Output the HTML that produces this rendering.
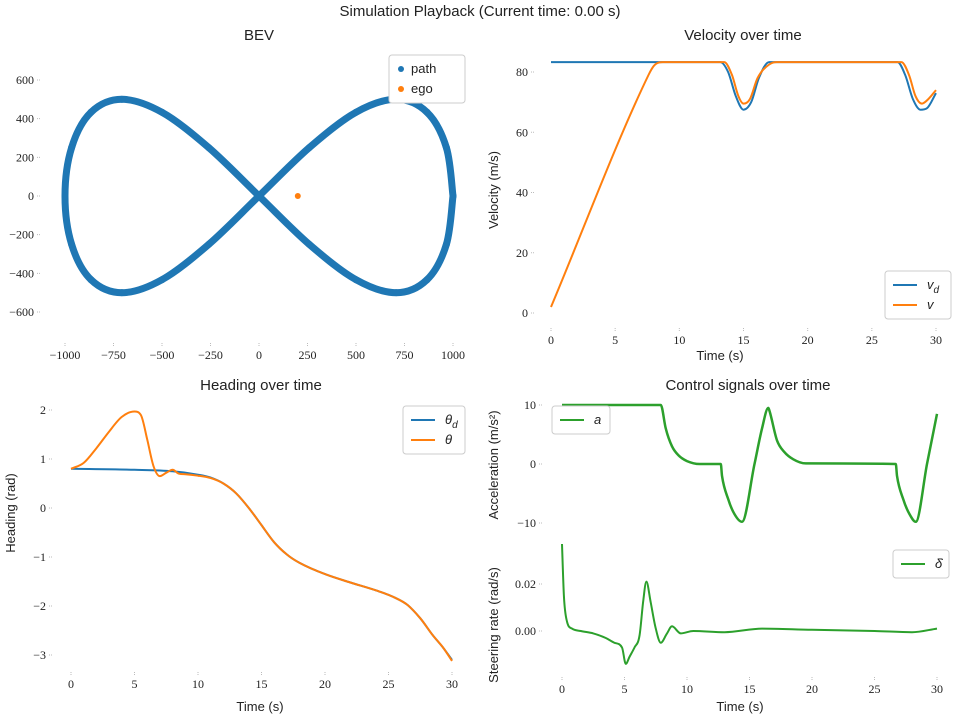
<!DOCTYPE html>
<html><head><meta charset="utf-8"><style>
body{margin:0;background:#fff;width:960px;height:719px;overflow:hidden}
svg text{font-family:"Liberation Sans",sans-serif;fill:#222}
.tk{font-family:"Liberation Serif",serif;font-size:12px}
.ttl{font-size:15px}
.lab{font-size:13px}
</style></head><body>
<svg id="s" width="960" height="719">
<text x="480" y="16" text-anchor="middle" class="ttl">Simulation Playback (Current time: 0.00 s)</text>
</svg>
<script>
// ---- data ----
const pathX=[1000,966,866,707,500,259,0,-259,-500,-707,-866,-966,-1000,-966,-866,-707,-500,-259,0,259,500,707,866,966,1000];
const pathY=[0,250,433,500,433,250,0,-250,-433,-500,-433,-250,0,250,433,500,433,250,0,-250,-433,-500,-433,-250,0];
const egoX=[200], egoY=[0];
const velT=[0,13.2,13.8,14.4,15,15.6,16.2,17,27,27.6,28.2,28.8,29.3,30];
const velVd=[83.3,83.3,80,72,67.5,70,78,83.3,83.3,79,71,67.5,68,73];
const velT2=[0,7.6,8,8.3,8.7,13.5,14.1,14.6,15,15.5,16.1,17,17.6,27.3,27.9,28.4,28.9,29.4,30];
const velV=[2,79,82,83,83.3,83.3,79,72,69.5,71,78,82.5,83.3,83.3,79,72,69.5,71,74];
const headT=[0,5,8,10,11,12,13,14,15,16,17,18,20,22,24,25.5,26.5,27.5,28.5,29.3,30];
const headD=[0.8,0.78,0.75,0.68,0.62,0.5,0.3,0,-0.35,-0.7,-0.95,-1.12,-1.35,-1.52,-1.68,-1.83,-1.98,-2.25,-2.6,-2.85,-3.1];
const headT2=[0,1,2,3,4,5,5.5,6,6.5,7,7.5,8,8.5,9,10,11,12,13,14,15,16,17,18,20,22,24,25.5,26.5,27.5,28.5,29.3,30];
const headTh=[0.8,0.92,1.22,1.56,1.86,1.97,1.9,1.4,0.85,0.65,0.72,0.78,0.7,0.69,0.66,0.61,0.5,0.3,0,-0.35,-0.7,-0.95,-1.12,-1.35,-1.52,-1.68,-1.83,-1.98,-2.25,-2.6,-2.85,-3.12];
const accT=[0,7.9,8.3,8.8,9.3,10,11,12.7,12.8,13.3,13.8,14.4,15.4,16,16.5,16.6,17.2,17.8,18.5,19.5,26.7,26.8,27.3,27.8,28.3,29.2,30];
const accA=[10,10,6,3,1.5,0.5,0,0,-2,-6,-8.5,-9.8,0,6,9.5,9,4,2,0.8,0.1,0,-2,-6,-8.5,-9.8,0,8.5];
const steT=[0,0.15,0.4,0.8,1.5,2.5,3.5,4.2,4.8,5.1,5.4,5.8,6.2,6.5,6.75,7.1,7.5,7.9,8.4,8.8,9.5,10.5,13,16,20,25,28,30];
const steV=[0.037,0.015,0.004,0.001,0,-0.001,-0.003,-0.005,-0.007,-0.014,-0.011,-0.007,-0.002,0.013,0.021,0.012,0.001,-0.005,-0.001,0.002,-0.001,0,-0.0005,0.001,0.0005,0,-0.0005,0.001];
const blue='#1f77b4',orange='#ff7f0e',green='#2ca02c';
const S=document.getElementById('s');
function el(t,a,p){const e=document.createElementNS('http://www.w3.org/2000/svg',t);for(const k in a)e.setAttribute(k,a[k]);(p||S).appendChild(e);return e;}
function lin(d0,d1,r0,r1){return v=>r0+(v-d0)*(r1-r0)/(d1-d0);}
function smooth(xs,ys,sx,sy){const P=xs.map((x,i)=>[sx(x),sy(ys[i])]);let d='M'+P[0][0]+' '+P[0][1];for(let i=0;i<P.length-1;i++){const p0=P[i-1]||P[i],p1=P[i],p2=P[i+1],p3=P[i+2]||P[i+1];const c1=[p1[0]+(p2[0]-p0[0])/6,p1[1]+(p2[1]-p0[1])/6],c2=[p2[0]-(p3[0]-p1[0])/6,p2[1]-(p3[1]-p1[1])/6];d+=`C${c1[0].toFixed(1)} ${c1[1].toFixed(1)} ${c2[0].toFixed(1)} ${c2[1].toFixed(1)} ${p2[0].toFixed(1)} ${p2[1].toFixed(1)}`;}return d;}
function mono(xs,ys,sx,sy){const X=xs.map(sx),Y=ys.map(sy),n=X.length;const dl=[],m=[];for(let i=0;i<n-1;i++)dl.push((Y[i+1]-Y[i])/(X[i+1]-X[i]));m[0]=dl[0];m[n-1]=dl[n-2];for(let i=1;i<n-1;i++){m[i]=(dl[i-1]*dl[i]<=0)?0:(dl[i-1]+dl[i])/2;}
for(let i=0;i<n-1;i++){if(dl[i]===0){m[i]=0;m[i+1]=0;continue;}const a=m[i]/dl[i],b=m[i+1]/dl[i],s=a*a+b*b;if(s>9){const t=3/Math.sqrt(s);m[i]=t*a*dl[i];m[i+1]=t*b*dl[i];}}
let d='M'+X[0].toFixed(1)+' '+Y[0].toFixed(1);for(let i=0;i<n-1;i++){const h=(X[i+1]-X[i])/3;d+=`C${(X[i]+h).toFixed(1)} ${(Y[i]+m[i]*h).toFixed(1)} ${(X[i+1]-h).toFixed(1)} ${(Y[i+1]-m[i+1]*h).toFixed(1)} ${X[i+1].toFixed(1)} ${Y[i+1].toFixed(1)}`;}return d;}
function ticks(vals,labels,sx,sy,axis,pos){vals.forEach((v,i)=>{let t;if(axis==='x'){el('line',{x1:sx(v),x2:sx(v),y1:pos,y2:pos+3,stroke:'#bbb','stroke-dasharray':'1 1'});t=el('text',{x:sx(v),y:pos+16,'text-anchor':'middle',class:'tk'});}else{el('line',{x1:pos-3,x2:pos,y1:sy(v),y2:sy(v),stroke:'#bbb','stroke-dasharray':'1 1'});t=el('text',{x:pos-6,y:sy(v)+4,'text-anchor':'end',class:'tk'});}


t.textContent=labels[i];});}
function txt(x,y,s,cls,rot,name){const t=el('text',{x:x,y:y,'text-anchor':'middle',class:cls});if(rot)t.setAttribute('transform',`rotate(-90 ${x} ${y})`);t.textContent=s;

return t;}
function legend(x,y,w,items,name){const g=el('g',{});


el('rect',{x:x,y:y,width:w,height:items.length*20+8,rx:3,fill:'#fff',stroke:'#ccc'},g);
items.forEach((it,i)=>{const cy=y+14+i*20;if(it.dot)el('circle',{cx:x+12,cy:cy,r:3,fill:it.c},g);else el('line',{x1:x+8,x2:x+32,y1:cy,y2:cy,stroke:it.c,'stroke-width':2},g);const t=el('text',{x:x+(it.dot?22:42),y:cy+4,class:'lab','font-style':it.dot?'normal':'italic'},g);t.textContent=it.l;if(it.sub){const s=el('tspan',{dy:4,'font-size':'10'},t);s.textContent=it.sub;}});}
function series(d,c,w,name){const p=el('path',{d:d,fill:'none',stroke:c,'stroke-width':w,'stroke-linejoin':'round'});

}
// ---- BEV ----
{const sx=lin(0,1000,259,453),sy=lin(0,600,196,80);
txt(259,40,'BEV','ttl',0,'bev-title');
ticks([-1000,-750,-500,-250,0,250,500,750,1000],['−1000','−750','−500','−250','0','250','500','750','1000'],sx,sy,'x',343);
ticks([-600,-400,-200,0,200,400,600],['−600','−400','−200','0','200','400','600'],sx,sy,'y',40);
series(smooth(pathX,pathY,sx,sy),blue,7,'path-series');
pathX.forEach((x,i)=>{const c=el('circle',{cx:sx(x),cy:sy(pathY[i]),r:3.5,fill:blue});

});
const e=el('circle',{cx:sx(egoX[0]),cy:sy(egoY[0]),r:3,fill:orange});


legend(389,55,76,[{l:'path',c:blue,dot:1},{l:'ego',c:orange,dot:1}],'bev-legend');}
// ---- Velocity ----
{const sx=lin(0,30,551,936),sy=lin(0,80,313,72);
txt(743,40,'Velocity over time','ttl',0,'velocity-title');
ticks([0,5,10,15,20,25,30],['0','5','10','15','20','25','30'],sx,sy,'x',328);
ticks([0,20,40,60,80],['0','20','40','60','80'],sx,sy,'y',534);
txt(720,360,'Time (s)','lab',0,'velocity-x-title');
txt(498,190,'Velocity (m/s)','lab',1,'velocity-y-title');
series(mono(velT,velVd,sx,sy),blue,2,'vd-series');
series(mono(velT2,velV,sx,sy),orange,2,'v-series');
legend(885,271,66,[{l:'v',sub:'d',c:blue},{l:'v',c:orange}],'velocity-legend');}
// ---- Heading ----
{const sx=lin(0,30,71,452),sy=lin(0,2,508,410);
txt(261,390,'Heading over time','ttl',0,'heading-title');
ticks([0,5,10,15,20,25,30],['0','5','10','15','20','25','30'],sx,sy,'x',672);
ticks([-3,-2,-1,0,1,2],['−3','−2','−1','0','1','2'],sx,sy,'y',52);
txt(260,711,'Time (s)','lab',0,'heading-x-title');
txt(15,513,'Heading (rad)','lab',1,'heading-y-title');
series(mono(headT,headD,sx,sy),blue,2,'theta-d-series');
series(mono(headT2,headTh,sx,sy),orange,2,'theta-series');
legend(403,406,62,[{l:'θ',sub:'d',c:blue},{l:'θ',c:orange}],'heading-legend');}
// ---- Acceleration ----
{const sx=lin(0,30,562,937),sy=lin(0,10,464,405);
txt(748,390,'Control signals over time','ttl',0,'control-title');
ticks([-10,0,10],['−10','0','10'],sx,sy,'y',542);
txt(498,465,'Acceleration (m/s²)','lab',1,'accel-y-title');
series(mono(accT,accA,sx,sy),green,2.5,'accel-series');
legend(552,406,58,[{l:'a',c:green}],'accel-legend');}
// ---- Steering ----
{const sx=lin(0,30,562,937),sy=lin(0,0.02,631,584);
ticks([0,5,10,15,20,25,30],['0','5','10','15','20','25','30'],sx,sy,'x',677);
ticks([0,0.02],['0.00','0.02'],sx,sy,'y',542);
txt(740,711,'Time (s)','lab',0,'steering-x-title');
txt(498,625,'Steering rate (rad/s)','lab',1,'steering-y-title');
series(mono(steT,steV,sx,sy),green,2,'steering-series');
legend(893,550,56,[{l:'δ̇',c:green}],'steering-legend');}
</script>
</body></html>
